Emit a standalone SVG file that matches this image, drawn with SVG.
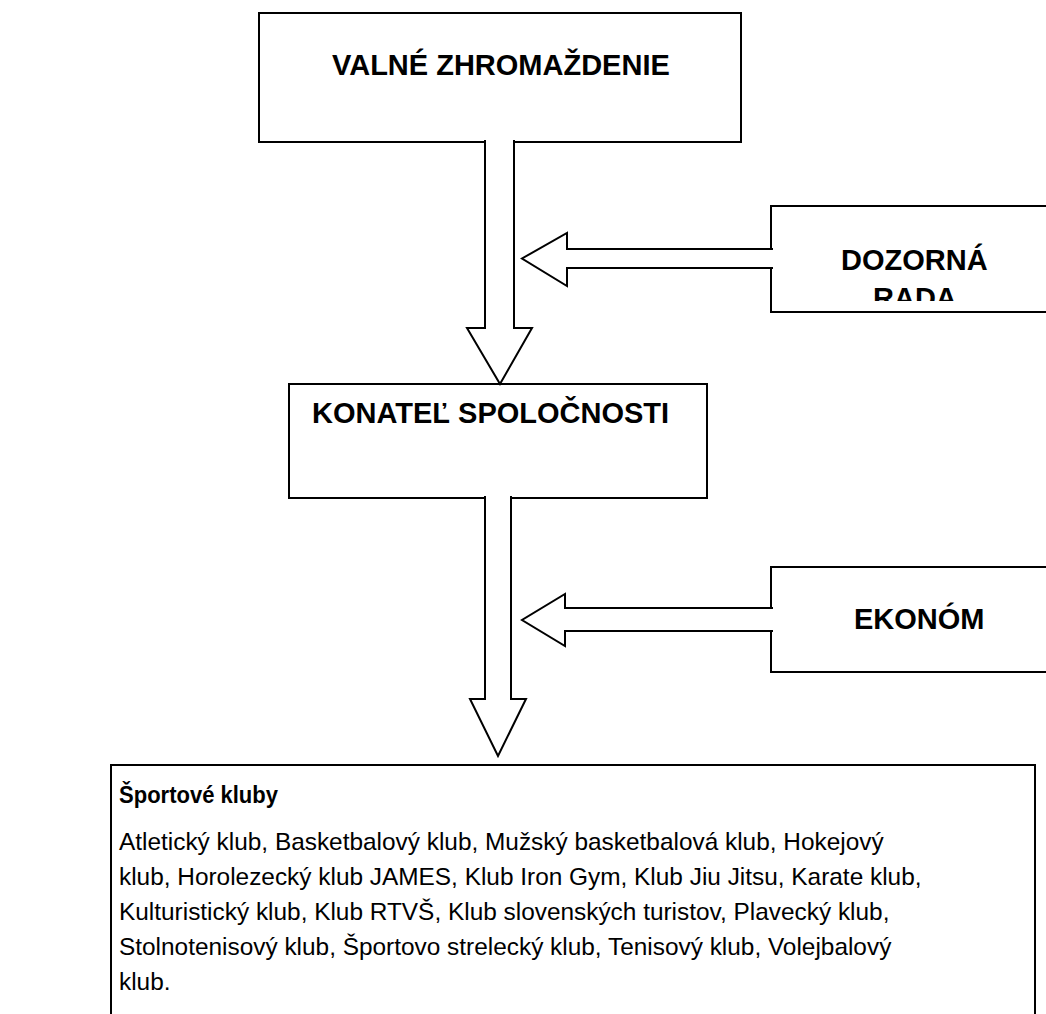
<svg xmlns="http://www.w3.org/2000/svg" width="1046" height="1014" viewBox="0 0 1046 1014">
<style>
.box{fill:#fff;stroke:#000;stroke-width:2}
.arr{fill:#fff;stroke:#000;stroke-width:2;stroke-linejoin:miter}
.h{font-family:"Liberation Sans",Arial,sans-serif;font-weight:bold;font-size:29px;fill:#000}
.hb{font-family:"Liberation Sans",Arial,sans-serif;font-weight:bold;font-size:24px;fill:#000}
.t{font-family:"Liberation Sans",Arial,sans-serif;font-size:24.4px;fill:#000}
</style>
<defs>
<clipPath id="clipDoz"><rect x="772" y="207" width="280" height="94"/></clipPath>
</defs>
<g id="valne">
<rect class="box" x="259" y="13" width="482" height="129"/>
<text class="h" x="332" y="75">VALNÉ ZHROMAŽDENIE</text>
</g>
<g id="dozorna">
<rect class="box" x="771" y="206" width="290" height="106"/>
<g clip-path="url(#clipDoz)">
<text class="h" x="841" y="270">DOZORNÁ</text>
<text class="h" x="873" y="308">RADA</text>
</g>
</g>
<g id="konatel">
<rect class="box" x="289" y="384" width="418" height="114"/>
<text class="h" x="312" y="423">KONATEĽ SPOLOČNOSTI</text>
</g>
<g id="ekonom">
<rect class="box" x="771" y="567" width="290" height="105"/>
<text class="h" x="854" y="629">EKONÓM</text>
</g>
<g id="kluby">
<rect class="box" x="111" y="765" width="924" height="260"/>
<text class="hb" x="119" y="803" textLength="159" lengthAdjust="spacingAndGlyphs">Športové kluby</text>
<text class="t" x="119" y="850">Atletický klub, Basketbalový klub, Mužský basketbalová klub, Hokejový</text>
<text class="t" x="119" y="885">klub, Horolezecký klub JAMES, Klub Iron Gym, Klub Jiu Jitsu, Karate klub,</text>
<text class="t" x="119" y="920">Kulturistický klub, Klub RTVŠ, Klub slovenských turistov, Plavecký klub,</text>
<text class="t" x="119" y="955">Stolnotenisový klub, Športovo strelecký klub, Tenisový klub, Volejbalový</text>
<text class="t" x="119" y="990">klub.</text>
</g>
<g id="connectors">
<path class="arr" d="M485,140 V328 H467 L500,384 L532,328 H514 V140"/>
<path class="arr" d="M773,249 H567 V233 L522,258.5 L567,286 V268 H773"/>
<path class="arr" d="M485,496 V699 H470 L498,756 L526,699 H511 V496"/>
<path class="arr" d="M773,608 H565 V594 L522,620 L565,646 V631 H773"/>
</g>
</svg>
